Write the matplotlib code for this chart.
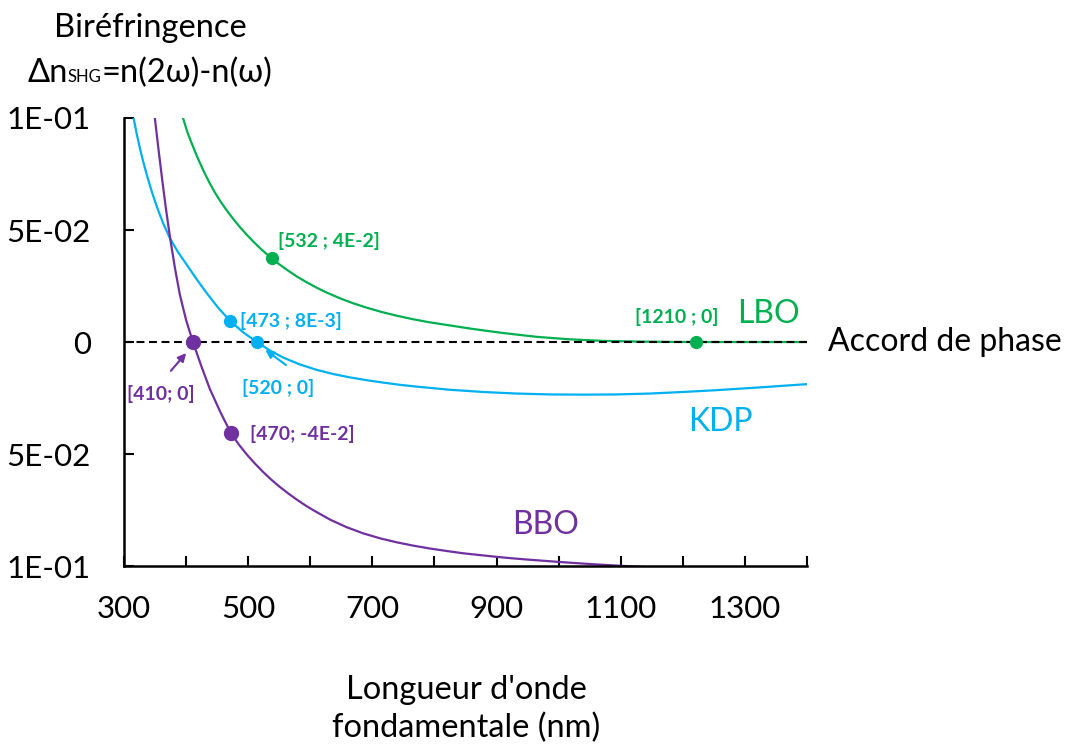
import numpy as np
import matplotlib
matplotlib.use('Agg')
import matplotlib.pyplot as plt

plt.rcParams['font.family'] = ['Lato', 'DejaVu Sans']

# readings from the picture (wavelength nm, birefringence)
bbo_nm = [348, 350, 355, 361, 367, 374, 382, 390, 400, 411, 424, 438, 455, 472, 485, 498, 511, 524, 537, 551, 565,
          578, 592, 605, 632, 658, 685, 712, 739, 766, 793, 820, 846, 873, 900, 927, 954, 1002, 1050, 1100, 1150]
bbo_dn = [0.1037, 0.0991, 0.0872, 0.0735, 0.0605, 0.0468, 0.0330, 0.0210, 0.0098, 0.0, -0.0104, -0.0208, -0.0312,
          -0.0406, -0.0458, -0.0503, -0.0543, -0.0580, -0.0614, -0.0647, -0.0677, -0.0703, -0.0729, -0.0751,
          -0.0793, -0.0826, -0.0854, -0.0876, -0.0894, -0.0909, -0.0922, -0.0933, -0.0943, -0.0951, -0.0959,
          -0.0966, -0.0972, -0.0982, -0.0991, -0.0999, -0.1006]

kdp_nm = [313, 316, 321, 326, 331, 337, 345, 353, 363, 374, 387, 401, 417, 433, 451, 471, 492, 514, 535, 557, 583,
          610, 637, 664, 690, 717, 744, 771, 824, 878, 932, 986, 1040, 1093, 1147, 1200, 1254, 1327, 1400]
kdp_dn = [0.1032, 0.0991, 0.0922, 0.0860, 0.0804, 0.0743, 0.0669, 0.0603, 0.0530, 0.0463, 0.0401, 0.0345, 0.0280,
          0.0219, 0.0155, 0.0094, 0.0043, 0.0, -0.0038, -0.0070, -0.0100, -0.0124, -0.0143, -0.0158, -0.0170,
          -0.0181, -0.0191, -0.0199, -0.0213, -0.0223, -0.0230, -0.0234, -0.0235, -0.0234, -0.0230, -0.0223,
          -0.0215, -0.0202, -0.0188]

lbo_nm = [393, 396, 402, 409, 416, 422, 430, 438, 446, 455, 465, 476, 487, 498, 508, 519, 528, 538, 550, 562, 578,
          594, 610, 627, 648, 669, 690, 715, 740, 765, 790, 820, 860, 911, 965, 1018, 1072, 1126, 1180, 1221, 1300,
          1400]
lbo_dn = [0.1020, 0.0991, 0.0937, 0.0887, 0.0839, 0.0801, 0.0753, 0.0709, 0.0669, 0.0629, 0.0589, 0.0549, 0.0512,
          0.0478, 0.0449, 0.0419, 0.0397, 0.0373, 0.0347, 0.0323, 0.0293, 0.0267, 0.0243, 0.0220, 0.0195, 0.0173,
          0.0154, 0.0134, 0.0117, 0.0102, 0.0089, 0.0076, 0.0059, 0.0040, 0.0023, 0.0012, 0.0005, 0.0002, 0.00005,
          0.0, 0.0, 0.0]

bbo_pts = [(411, 0.0), (472, -0.0406)]
kdp_pts = [(471, 0.0094), (514, 0.0)]
lbo_pts = [(538, 0.0373), (1221, 0.0)]

green = '#00B050'
cyan = '#00B0F0'
purple = '#7030A0'

fig = plt.figure(figsize=(10.72, 7.44), dpi=100)
ax = fig.add_axes([0.1157, 0.2392, 0.6371, 0.6022])

ax.plot(lbo_nm, lbo_dn, color=green, lw=1.6)
ax.plot(kdp_nm, kdp_dn, color=cyan, lw=1.6)
ax.plot(bbo_nm, bbo_dn, color=purple, lw=1.6)
ax.axhline(0, color='black', lw=1.5, ls=(0, (3.8, 2.2)))

for pts, c, ms in [(lbo_pts, green, 8.5), (kdp_pts, cyan, 8.5), (bbo_pts, purple, 10)]:
    ax.plot([p[0] for p in pts], [p[1] for p in pts], 'o', color=c, ms=ms, zorder=5)

ax.set_xlim(300, 1400)
ax.set_ylim(-0.1, 0.1)

for s in ['top', 'right']:
    ax.spines[s].set_visible(False)
for s in ['left', 'bottom']:
    ax.spines[s].set_linewidth(1.8)

xt = np.arange(300, 1401, 100)
ax.set_xticks(xt)
ax.set_xticklabels([str(v) if (v - 300) % 200 == 0 else '' for v in xt])
ax.set_yticks([0.1, 0.05, 0, -0.05, -0.1])
ax.set_yticklabels(['1E-01', '5E-02', '0', '5E-02', '1E-01'])
ax.tick_params(direction='in', length=7, width=1.5, labelsize=22.5)
ax.tick_params(axis='y', pad=24)
ax.tick_params(axis='x', pad=21)

# annotations
fs = 14
ax.text(548, 0.0451, '[532 ; 4E-2]', color=green, fontsize=fs, fontweight='bold', va='center')
ax.text(487, 0.0094, '[473 ; 8E-3]', color=cyan, fontsize=fs, fontweight='bold', va='center')
ax.text(548, -0.0205, '[520 ; 0]', color=cyan, fontsize=fs, fontweight='bold', va='center', ha='center')
ax.text(360, -0.0232, '[410; 0]', color=purple, fontsize=fs, fontweight='bold', va='center', ha='center')
ax.text(503, -0.041, '[470; -4E-2]', color=purple, fontsize=fs, fontweight='bold', va='center')
ax.text(1123, 0.0112, '[1210 ; 0]', color=green, fontsize=fs, fontweight='bold', va='center')

ax.text(1287, 0.0125, 'LBO', color=green, fontsize=23, va='center')
ax.text(1208, -0.0357, 'KDP', color=cyan, fontsize=23, va='center')
ax.text(925, -0.0817, 'BBO', color=purple, fontsize=23, va='center')
ax.text(1434, 0, 'Accord de phase', color='black', fontsize=23, va='center')

ax.annotate('', xy=(403, -0.004), xytext=(372.5, -0.0138),
            arrowprops=dict(arrowstyle='-|>', color=purple, lw=1.5, mutation_scale=12))
ax.annotate('', xy=(524, -0.0028), xytext=(564.5, -0.011),
            arrowprops=dict(arrowstyle='-|>', color=cyan, lw=1.5, mutation_scale=12))

# y axis title
fig.text(150 / 1072, 1 - 37 / 744, 'Biréfringence', fontsize=23.5, ha='center', va='baseline')
fig.canvas.draw()
r = fig.canvas.get_renderer()
yb = 1 - 82 / 744
parts = [('Δn', 23.5), ('SHG', 12), ('=n(2ω)-n(ω)', 23.5)]
texts = [fig.text(0, yb, s, fontsize=f, va='baseline') for s, f in parts]
widths = [t.get_window_extent(r).width for t in texts]
x = 150 - sum(widths) / 2
for t, w in zip(texts, widths):
    t.set_x(x / 1072)
    x += w

# x axis title
fig.text(466 / 1072, 1 - 690 / 744, "Longueur d'onde", fontsize=23.5, ha='center', va='center')
fig.text(466 / 1072, 1 - 728 / 744, 'fondamentale (nm)', fontsize=23.5, ha='center', va='center')

fig.savefig('out.png', dpi=100)
